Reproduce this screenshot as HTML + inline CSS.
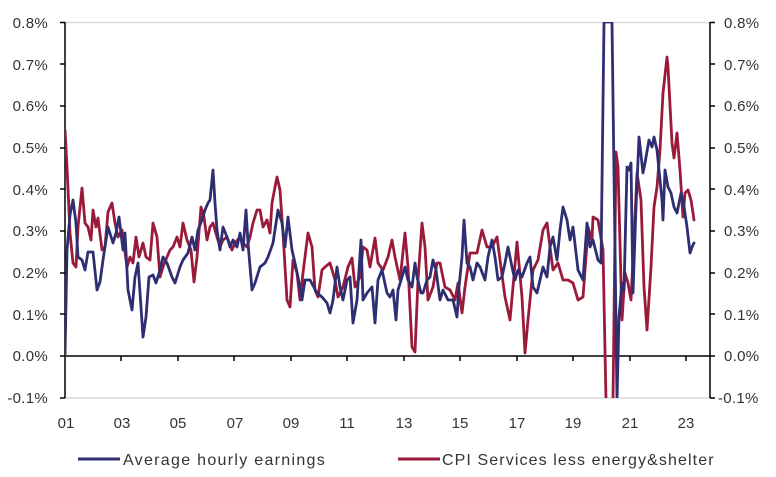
<!DOCTYPE html>
<html><head><meta charset="utf-8"><style>
body{margin:0;background:#fff;}
svg{display:block;font-family:"Liberation Sans",sans-serif;}
</style></head><body>
<svg width="776" height="477" viewBox="0 0 776 477">
<defs><clipPath id="c"><rect x="65" y="22" width="645" height="376"/></clipPath></defs>
<line x1="65" y1="22.5" x2="710" y2="22.5" stroke="#d9d9d9" stroke-width="1.5"/>
<line x1="65" y1="398" x2="710" y2="398" stroke="#d9d9d9" stroke-width="1.5"/>
<g stroke="#000" stroke-width="1.5" fill="none">
<line x1="65" y1="22" x2="65" y2="398"/>
<line x1="710" y1="22" x2="710" y2="398"/>
<line x1="65" y1="356" x2="710" y2="356"/>
<path d="M60 22.5H65M60 64H65M60 106H65M60 148H65M60 189H65M60 231H65M60 273H65M60 314H65M60 356H65M60 398H65"/>
<path d="M710 22.5H715M710 64H715M710 106H715M710 148H715M710 189H715M710 231H715M710 273H715M710 314H715M710 356H715M710 398H715"/>
<path d="M121 356V361M178 356V361M234 356V361M291 356V361M347 356V361M404 356V361M460 356V361M517 356V361M573 356V361M630 356V361M686 356V361"/>
</g>
<g font-size="15" fill="#333" text-anchor="end" letter-spacing="0.3">
<text x="48" y="28">0.8%</text><text x="48" y="70">0.7%</text><text x="48" y="111">0.6%</text><text x="48" y="153">0.5%</text><text x="48" y="195">0.4%</text><text x="48" y="236">0.3%</text><text x="48" y="278">0.2%</text><text x="48" y="320">0.1%</text><text x="48" y="361">0.0%</text><text x="48" y="403">-0.1%</text>
</g>
<g font-size="15" fill="#333" letter-spacing="0.3">
<text x="724" y="28">0.8%</text><text x="724" y="70">0.7%</text><text x="724" y="111">0.6%</text><text x="724" y="153">0.5%</text><text x="724" y="195">0.4%</text><text x="724" y="236">0.3%</text><text x="724" y="278">0.2%</text><text x="724" y="320">0.1%</text><text x="724" y="361">0.0%</text><text x="718" y="403">-0.1%</text>
</g>
<g font-size="15" fill="#333" text-anchor="middle">
<text x="66" y="428">01</text><text x="122" y="428">03</text><text x="178" y="428">05</text><text x="235" y="428">07</text><text x="291" y="428">09</text><text x="347" y="428">11</text><text x="404" y="428">13</text><text x="460" y="428">15</text><text x="517" y="428">17</text><text x="573" y="428">19</text><text x="630" y="428">21</text><text x="686" y="428">23</text>
</g>
<g clip-path="url(#c)" fill="none" stroke-width="2.8" stroke-linejoin="round" stroke-linecap="round">
<polyline stroke="#9b1a3a" points="65,130 67,167 70,233 73,263 76,267 78,227 82,188 85,223 88,227 91,240 93,210 96,227 98,218 102,250 105,247 108,212 112,203 115,223 118,237 122,230 127,267 130,257 133,263 136,237 139,257 143,243 146,257 150,260 153,223 157,237 160,277 163,267 167,257 170,250 173,247 177,237 180,247 183,223 187,240 191,250 194,282 197,257 201,207 204,217 207,240 210,227 213,223 217,237 220,247 223,240 227,237 232,250 235,243 240,237 243,243 247,247 250,237 253,223 257,210 260,210 263,227 267,220 270,233 272,203 275,187 277,177 280,190 283,233 287,300 290,307 293,260 297,273 300,300 303,273 308,233 312,247 315,290 318,297 322,270 325,267 330,263 335,280 338,297 343,287 348,267 352,258 355,287 360,277 363,247 367,250 370,267 375,238 378,263 383,270 388,257 392,240 395,257 400,280 405,233 408,267 412,347 415,352 418,280 422,223 425,247 428,300 433,287 437,263 440,263 445,287 450,290 455,300 458,283 462,313 465,287 470,253 477,253 482,230 487,247 492,247 497,237 500,260 505,297 510,320 513,287 517,242 522,297 525,353 528,320 533,270 538,260 543,230 547,223 550,247 553,270 558,263 563,280 568,280 573,283 578,300 583,297 586,257 588,227 592,240 593,217 598,220 603,250 606,400 613,400 616,152 618,167 622,320 625,273 628,283 631,300 634,240 637,173 641,200 644,287 647,330 651,267 654,207 657,187 660,150 663,93 667,57 668,67 672,143 674,158 677,133 680,170 683,217 685,193 688,190 691,200 693,213 694,220"/>
<polyline stroke="#2e2f72" points="65,356 67,250 70,215 73,200 76,223 78,257 82,260 85,270 88,252 93,252 97,290 100,282 103,260 108,227 113,243 116,233 119,217 123,250 125,233 128,290 132,310 135,277 138,263 143,337 146,317 149,277 153,275 156,283 160,270 163,257 167,263 172,277 175,283 180,267 183,260 188,253 192,237 195,250 198,230 202,220 205,210 208,203 210,200 213,170 215,203 217,230 220,250 223,227 227,237 230,247 233,240 237,247 240,233 243,250 246,210 248,243 252,290 255,283 260,267 265,263 268,257 273,243 278,210 282,223 285,247 288,217 292,250 295,263 298,277 302,300 305,280 310,280 317,293 322,297 327,303 330,313 333,300 337,267 340,287 343,300 347,280 350,277 353,323 357,300 361,240 363,300 367,293 372,287 375,323 378,280 382,270 387,293 390,297 393,290 396,320 398,290 402,277 405,267 408,280 412,287 415,263 417,277 421,293 423,293 427,280 430,277 433,260 436,270 440,300 443,290 448,300 453,300 457,317 459,287 462,257 464,220 467,263 470,267 473,280 477,263 480,267 485,280 488,257 492,240 495,257 498,280 502,277 505,263 508,247 512,267 515,280 518,270 522,277 527,263 530,257 533,287 537,293 540,280 543,267 547,277 550,247 553,237 557,260 560,230 563,207 567,220 570,240 573,227 578,270 583,280 587,223 590,247 593,240 598,260 601,263 604,22 612,22 617,400 619,317 622,283 624,290 627,167 629,170 631,163 633,293 636,207 639,137 643,173 645,163 649,140 652,147 654,137 657,150 659,170 662,200 663,220 665,170 668,187 671,193 674,207 677,213 681,193 683,200 687,227 690,253 692,247 694,243"/>
</g>
<line x1="78" y1="459" x2="120" y2="459" stroke="#2e2f72" stroke-width="3"/>
<text x="123" y="465" font-size="16" fill="#333" letter-spacing="1.3">Average hourly earnings</text>
<line x1="398" y1="459" x2="440" y2="459" stroke="#9b1a3a" stroke-width="3"/>
<text x="442" y="465" font-size="16" fill="#333" letter-spacing="1.1">CPI Services less energy&amp;shelter</text>
</svg>
</body></html>
